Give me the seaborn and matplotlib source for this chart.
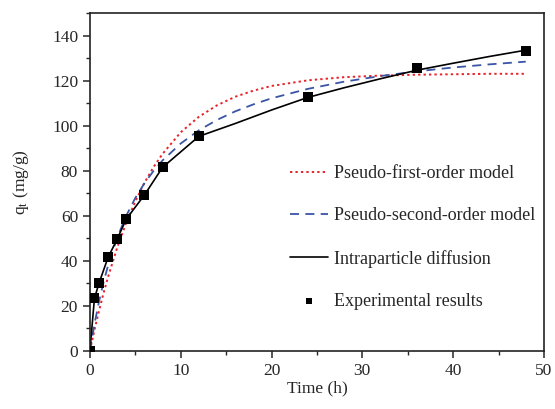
import matplotlib
matplotlib.use("Agg")
import matplotlib.pyplot as plt
from matplotlib.ticker import MultipleLocator
import seaborn as sns
import pandas as pd

exp_time = [0, 0.5, 1, 2, 3, 4, 6, 8, 12, 24, 36, 48]
exp_qt = [0, 23.3, 30.0, 41.5, 49.6, 58.5, 69.2, 81.5, 95.3, 112.9, 125.8, 133.3]

# fitted model curves
fit_time = [0, 0.5, 1, 1.5, 2, 3, 4, 5, 6, 7, 8, 10, 12, 14, 16, 18, 20, 24, 28, 32, 36, 40, 44, 48]
pfo_qt = [0, 9.2, 17.7, 25.6, 32.8, 45.8, 56.9, 66.4, 74.6, 81.6, 87.5, 97.1, 104.0, 109.1,
          112.9, 115.6, 117.7, 120.2, 121.6, 122.3, 122.7, 122.9, 123.1, 123.1]
pso_qt = [0, 11.8, 21.8, 30.4, 37.9, 50.2, 60.0, 67.9, 74.4, 79.9, 84.6, 92.1, 98.0, 102.6,
          106.4, 109.5, 112.2, 116.4, 119.6, 122.1, 124.2, 125.9, 127.3, 128.5]

ipd_time = [0, 0.5, 1, 2, 3, 4, 6, 8, 12, 16, 20, 24, 28, 32, 36, 40, 44, 48]
ipd_qt = [0, 23.3, 30.0, 41.5, 49.6, 58.5, 69.2, 81.5, 95.3, 101.0, 107.0, 112.6,
          116.9, 120.9, 124.7, 127.8, 130.8, 133.6]

fit_df = pd.DataFrame({"t": fit_time, "pfo": pfo_qt, "pso": pso_qt})
ipd_df = pd.DataFrame({"t": ipd_time, "q": ipd_qt})
exp_df = pd.DataFrame({"t": exp_time, "q": exp_qt})

sns.set_style("ticks")
plt.rcParams["font.family"] = ["Liberation Serif", "DejaVu Serif"]
plt.rcParams["mathtext.fontset"] = "stix"

fig = plt.figure(figsize=(5.55, 4.09), dpi=100)
ax = fig.add_axes([0.162, 0.1425, 0.818, 0.825])

sns.lineplot(data=fit_df, x="t", y="pfo", ax=ax, color="#e8222a", linestyle=(0, (1.2, 1.6)),
             linewidth=1.4, label="Pseudo-first-order model")
sns.lineplot(data=fit_df, x="t", y="pso", ax=ax, color="#3a55a6", linestyle=(0, (5, 3.5)),
             linewidth=1.3, label="Pseudo-second-order model")
sns.lineplot(data=ipd_df, x="t", y="q", ax=ax, color="black", linewidth=1.2,
             label="Intraparticle diffusion")
sns.scatterplot(data=exp_df, x="t", y="q", ax=ax, marker="s", color="black", s=44,
                edgecolor="black", linewidth=0, zorder=5, label="Experimental results")

ax.set_xlim(0, 50)
ax.set_ylim(0, 150)
ax.xaxis.set_major_locator(MultipleLocator(10))
ax.xaxis.set_minor_locator(MultipleLocator(5))
ax.yaxis.set_major_locator(MultipleLocator(20))
ax.yaxis.set_minor_locator(MultipleLocator(10))
ax.tick_params(which="major", length=5, width=1.1, labelsize=12.5, direction="out")
ax.tick_params(which="minor", length=3, width=1.0, direction="out")
ax.tick_params(top=False, right=False)
for sp in ax.spines.values():
    sp.set_linewidth(1.2)
    sp.set_color("#222222")

ax.set_xlabel("Time (h)", fontsize=12.5, labelpad=1)
ax.set_ylabel("q$_\\mathrm{t}$ (mg/g)", fontsize=12.5, labelpad=15)

ax.legend(loc="upper left", bbox_to_anchor=(0.44, 0.55), frameon=False, fontsize=13,
          handlelength=2.1, handletextpad=0.35, labelspacing=1.4, borderaxespad=0,
          borderpad=0, markerscale=0.7)

fig.savefig("out.png", dpi=100)
